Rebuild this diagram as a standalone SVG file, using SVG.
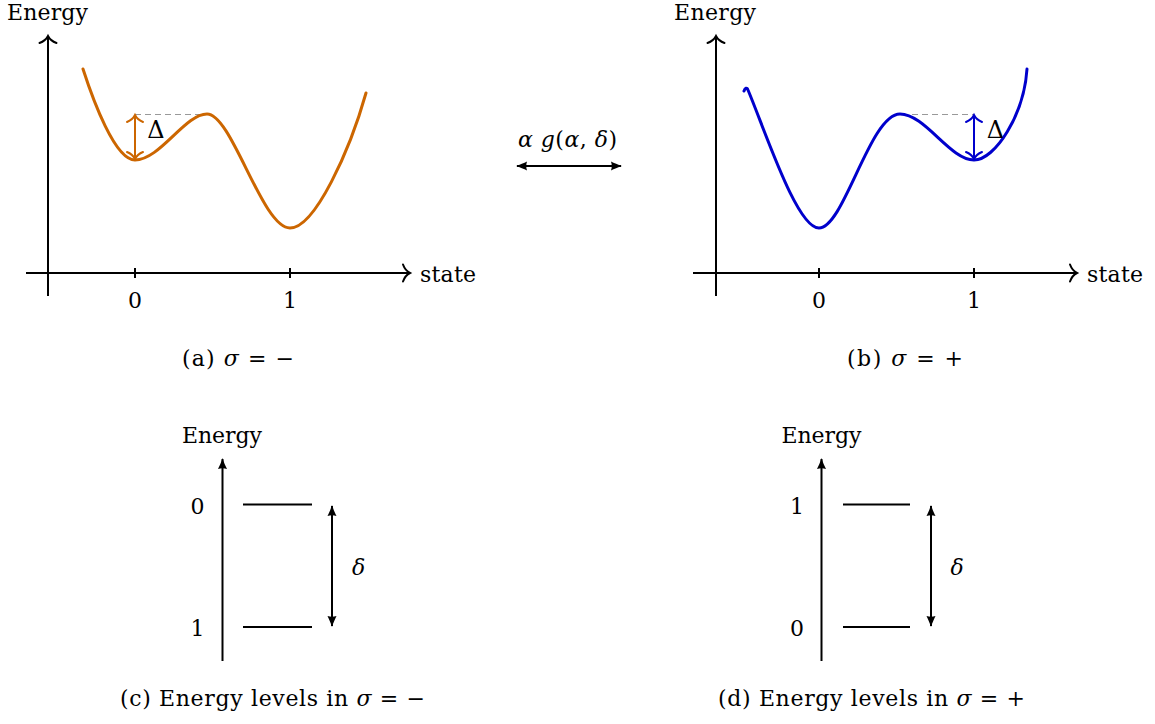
<svg xmlns="http://www.w3.org/2000/svg" width="1155" height="724" viewBox="0 0 1155 724">
<style>
text{font-family:"DejaVu Serif","Liberation Serif","Noto Serif",serif;font-size:22px;fill:#000}
.m{text-anchor:middle}
.i{font-style:italic}
.big{font-size:24px}
.ax{stroke:#000;stroke-width:2;fill:none}
.lvl{stroke:#000;stroke-width:2;fill:none}
.dash{stroke:#999;stroke-width:1.2;stroke-dasharray:6 4;fill:none}
.curveO{stroke:#CC6600;stroke-width:3;fill:none;stroke-linecap:round}
.curveB{stroke:#0000CC;stroke-width:3;fill:none;stroke-linecap:round}
</style>
<defs>
<marker id="to" markerUnits="userSpaceOnUse" markerWidth="20" markerHeight="20" refX="0" refY="0" orient="auto" overflow="visible">
<path d="M -7,-8.5 C -5,-3 -2,-1 0,0 C -2,1 -5,3 -7,8.5" fill="none" stroke="#000" stroke-width="2" stroke-linecap="round"/>
</marker>
<marker id="toO" markerUnits="userSpaceOnUse" markerWidth="20" markerHeight="20" refX="0" refY="0" orient="auto-start-reverse" overflow="visible">
<path d="M -7,-8 C -5,-3 -2,-1 0,0 C -2,1 -5,3 -7,8" fill="none" stroke="#CC6600" stroke-width="2" stroke-linecap="round"/>
</marker>
<marker id="toB" markerUnits="userSpaceOnUse" markerWidth="20" markerHeight="20" refX="0" refY="0" orient="auto-start-reverse" overflow="visible">
<path d="M -7,-8 C -5,-3 -2,-1 0,0 C -2,1 -5,3 -7,8" fill="none" stroke="#0000CC" stroke-width="2" stroke-linecap="round"/>
</marker>
<marker id="lt" markerUnits="userSpaceOnUse" markerWidth="20" markerHeight="20" refX="0" refY="0" orient="auto-start-reverse" overflow="visible">
<path d="M 1,0 C -3,-1.2 -7,-3 -10,-4.5 C -9,-1.5 -9,1.5 -10,4.5 C -7,3 -3,1.2 1,0 Z" fill="#000"/>
</marker>
</defs>

<g id="plot-a">
<line class="ax" x1="48" y1="296" x2="48" y2="36" marker-end="url(#to)"/>
<line class="ax" x1="26" y1="273" x2="410" y2="273" marker-end="url(#to)"/>
<line class="ax" x1="135" y1="268" x2="135" y2="278"/>
<line class="ax" x1="290" y1="268" x2="290" y2="278"/>
<text class="m" x="47.5" y="20" textLength="81">Energy</text>
<text x="420" y="282" textLength="56">state</text>
<text class="m" x="135" y="308">0</text>
<text class="m" x="290" y="308">1</text>
<line class="dash" x1="135" y1="114.5" x2="207" y2="114.5"/>
<path class="curveO" d="M 83,69 C 93,100 115,160 135,160 C 160,160 185,114 207,114 C 232,114 262,228 290,228 C 315,228 350,150 366,93"/>
<line x1="135" y1="115" x2="135" y2="159" stroke="#CC6600" stroke-width="2" marker-start="url(#toO)" marker-end="url(#toO)"/>
<text class="m big" x="156" y="138">Δ</text>
</g>

<g id="plot-b">
<line class="ax" x1="716" y1="296" x2="716" y2="36" marker-end="url(#to)"/>
<line class="ax" x1="693" y1="273" x2="1077" y2="273" marker-end="url(#to)"/>
<line class="ax" x1="819" y1="268" x2="819" y2="278"/>
<line class="ax" x1="974" y1="268" x2="974" y2="278"/>
<text class="m" x="715" y="20" textLength="82">Energy</text>
<text x="1087" y="282" textLength="56">state</text>
<text class="m" x="819" y="308">0</text>
<text class="m" x="974" y="308">1</text>
<line class="dash" x1="902" y1="114.5" x2="974" y2="114.5"/>
<path class="curveB" d="M 744,91 C 745,88 747,87 748,90 C 766,133 797,228 819,228 C 844,228 870,114 900,114 C 925,114 950,160 974,160 C 995,160 1024,115 1027,69"/>
<line x1="974" y1="115" x2="974" y2="159" stroke="#0000CC" stroke-width="2" marker-start="url(#toB)" marker-end="url(#toB)"/>
<text class="m big" x="995.5" y="138">Δ</text>
</g>

<g id="transition-label">
<text class="m" x="567.5" y="147" textLength="99"><tspan class="i">α</tspan> <tspan class="i">g</tspan>(<tspan class="i">α</tspan>, <tspan class="i">δ</tspan>)</text>
</g>

<g id="connectors">
<line x1="517" y1="166" x2="621" y2="166" stroke="#000" stroke-width="2" marker-start="url(#lt)" marker-end="url(#lt)"/>
</g>

<g id="captions-top">
<text class="m" x="238" y="366" textLength="112">(a) <tspan class="i">σ</tspan> = −</text>
<text class="m" x="905" y="366" textLength="116">(b) <tspan class="i">σ</tspan> = +</text>
</g>

<g id="levels-c">
<text class="m" x="222" y="443" textLength="80">Energy</text>
<line class="ax" x1="222.5" y1="661" x2="222.5" y2="459" marker-end="url(#lt)"/>
<line class="lvl" x1="243" y1="504.5" x2="312" y2="504.5"/>
<line class="lvl" x1="243" y1="627" x2="312" y2="627"/>
<text class="m" x="197.5" y="514">0</text>
<text class="m" x="197.5" y="636">1</text>
<line class="ax" x1="332" y1="506" x2="332" y2="626" marker-start="url(#lt)" marker-end="url(#lt)"/>
<text class="m i" x="358.5" y="575">δ</text>
<text class="m" x="272.5" y="706" textLength="305">(c) Energy levels in <tspan class="i">σ</tspan> = −</text>
</g>

<g id="levels-d">
<text class="m" x="821.5" y="443" textLength="80">Energy</text>
<line class="ax" x1="821.5" y1="661" x2="821.5" y2="459" marker-end="url(#lt)"/>
<line class="lvl" x1="843" y1="504.5" x2="910" y2="504.5"/>
<line class="lvl" x1="843" y1="627" x2="910" y2="627"/>
<text class="m" x="797" y="514">1</text>
<text class="m" x="797" y="636">0</text>
<line class="ax" x1="931" y1="506" x2="931" y2="626" marker-start="url(#lt)" marker-end="url(#lt)"/>
<text class="m i" x="957" y="575">δ</text>
<text class="m" x="871.5" y="706" textLength="307">(d) Energy levels in <tspan class="i">σ</tspan> = +</text>
</g>
</svg>
